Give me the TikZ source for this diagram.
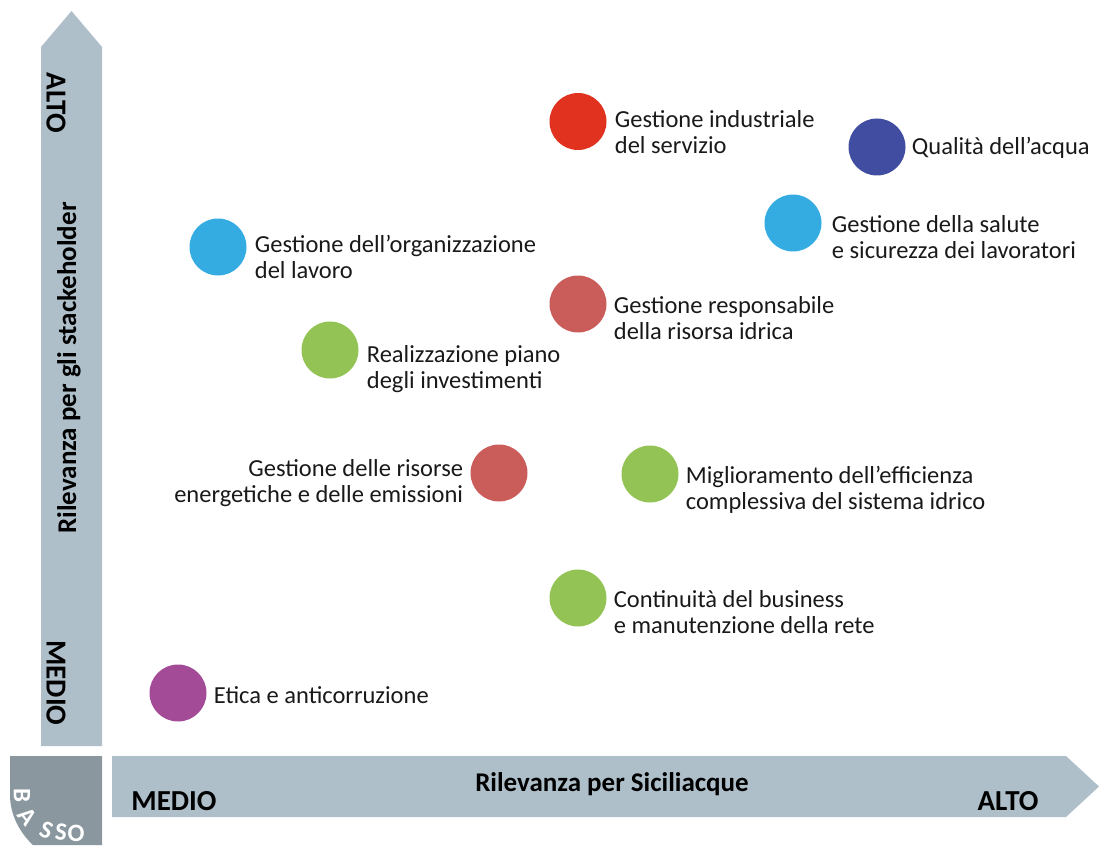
\documentclass[tikz,border=0pt]{standalone}
\usepackage{fontspec}
\setmainfont{Carlito}
\usepackage{tikz}
\usetikzlibrary{positioning}
\definecolor{axisgray}{HTML}{AEBFCA}
\definecolor{bassogray}{HTML}{8A979F}
\definecolor{redind}{HTML}{E0321F}
\definecolor{bluedark}{HTML}{414DA0}
\definecolor{bluelight}{HTML}{34ACE2}
\definecolor{salmon}{HTML}{CA5C5A}
\definecolor{greenmat}{HTML}{93C255}
\definecolor{purplemat}{HTML}{A44B98}
\tikzset{
    dot/.style={circle, minimum size=57pt, inner sep=0pt},
    topic/.style={align=left, inner sep=0pt, text=black!90, font=\fontsize{24.5}{26.5}\selectfont},
    axislab/.style={inner sep=0pt, font=\bfseries\fontsize{27}{30}\selectfont},
    level/.style={inner sep=0pt, font=\bfseries\fontsize{29}{30}\selectfont},
    basso/.style={inner sep=0pt, text=white, font=\bfseries\fontsize{25}{26}\selectfont}
}
\begin{document}
\begin{tikzpicture}[x=1pt, y=-1pt]
        \useasboundingbox (0,0) rectangle (1099,845);

        % --- Axes ---
        \fill [axisgray] (41,746) -- (41,47) -- (71.5,11) -- (102,47) -- (102,746) -- cycle;
        \fill [axisgray] (112,756) -- (1066,756) -- (1099,786.5) -- (1066,817) -- (112,817) -- cycle;
        \fill [bassogray] (10,756) -- (102,756) -- (102,845) -- (33,845)
            .. controls (20,833) and (10,815) .. (10,795) -- cycle;

        % --- Axis labels ---
        \node (yname) [axislab, rotate=90] at (69,368) {Rilevanza per gli stackeholder};
        \node (yhigh) [level, rotate=-90] at (56,103) {ALTO};
        \node (ymid) [level, rotate=-90] at (56,683) {MEDIO};
        \node (xname) [axislab] at (612,784) {Rilevanza per Siciliacque};
        \node (xmid) [level] at (174,801) {MEDIO};
        \node (xhigh) [level] at (1008,801) {ALTO};

        % --- BASSO along the corner ---
        \node (b1) [basso, rotate=-90] at (22,795) {B};
        \node (b2) [basso, rotate=-52] at (27.5,816) {A};
        \node (b3) [basso, rotate=-22] at (46.5,830.5) {S};
        \node (b4) [basso, rotate=-6] at (61,832.5) {S};
        \node (b5) [basso] at (76,833) {O};

        % --- Topics ---
        \node (Ind) [dot, fill=redind] at (578,121.5) {};
        \node (Acq) [dot, fill=bluedark] at (877,147) {};
        \node (Sal) [dot, fill=bluelight] at (793,223) {};
        \node (Org) [dot, fill=bluelight] at (218,247) {};
        \node (Idr) [dot, fill=salmon] at (578,304) {};
        \node (Inv) [dot, fill=greenmat] at (330,350) {};
        \node (Ene) [dot, fill=salmon] at (499,473) {};
        \node (Eff) [dot, fill=greenmat] at (650,474) {};
        \node (Bus) [dot, fill=greenmat] at (578,598) {};
        \node (Eti) [dot, fill=purplemat] at (178,693) {};

        % --- Labels (base = last line) ---
        \node (IndL) [topic, base right=8pt of Ind, yshift=-32.5pt] {Gestione industriale\\del servizio};
        \node (AcqL) [topic, base right=6pt of Acq, yshift=-8pt] {Qualità dell’acqua};
        \node (SalL) [topic, base right=10pt of Sal, yshift=-35.5pt] {Gestione della salute\\e sicurezza dei lavoratori};
        \node (OrgL) [topic, base right=8pt of Org, yshift=-31.5pt] {Gestione dell’organizzazione\\del lavoro};
        \node (IdrL) [topic, base right=7pt of Idr, yshift=-35.5pt] {Gestione responsabile\\della risorsa idrica};
        \node (InvL) [topic, base right=8pt of Inv, yshift=-38.5pt] {Realizzazione piano\\degli investimenti};
        \node (EneL) [topic, align=right, base left=7pt of Ene, yshift=-29.5pt] {Gestione delle risorse\\energetiche e delle emissioni};
        \node (EffL) [topic, base right=7pt of Eff, yshift=-35.5pt] {Miglioramento dell’efficienza\\complessiva del sistema idrico};
        \node (BusL) [topic, base right=7pt of Bus, yshift=-35.5pt] {Continuità del business\\e manutenzione della rete};
        \node (EtiL) [topic, base right=7pt of Eti, yshift=-10pt] {Etica e anticorruzione};
    \end{tikzpicture}
\end{document}
